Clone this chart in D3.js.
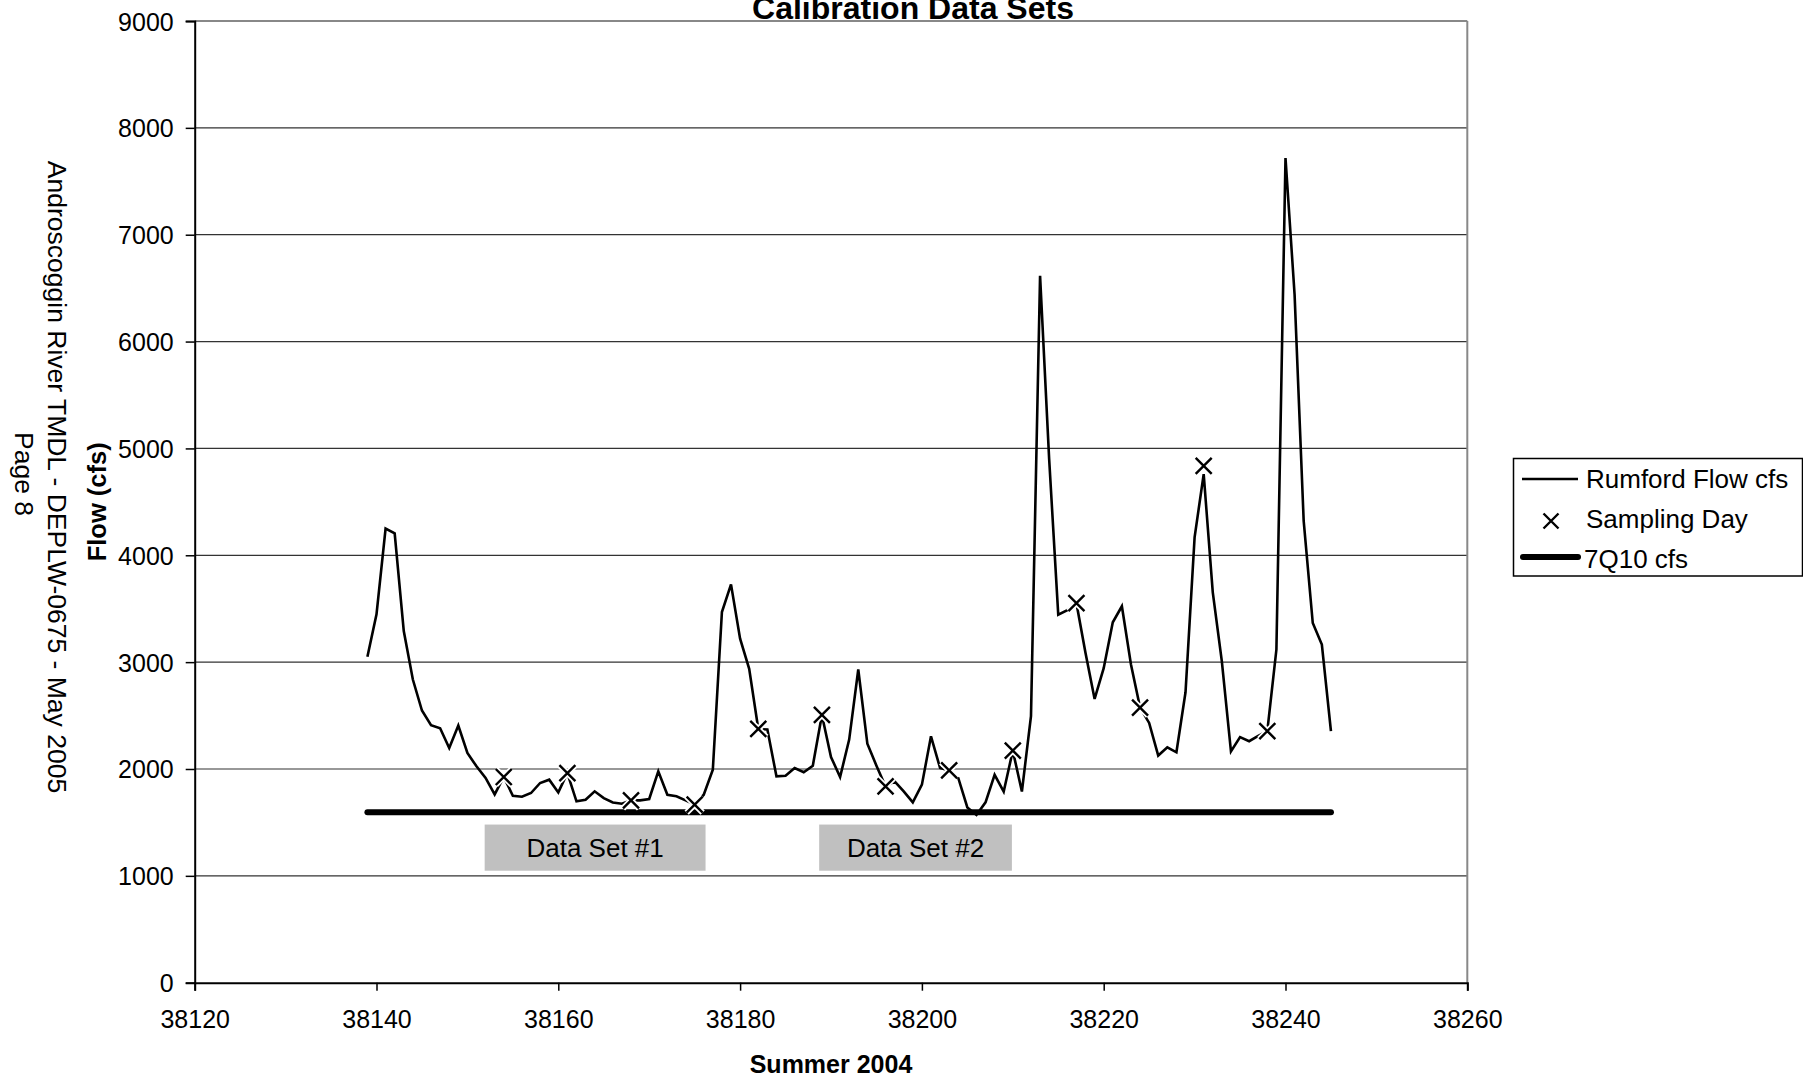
<!DOCTYPE html>
<html>
<head>
<meta charset="utf-8">
<script src="https://cdn.jsdelivr.net/npm/d3@7"></script>
<style>
  body { margin: 0; background: #fff; }
  svg { display: block; font-family: Arial, "Liberation Sans", sans-serif; }
</style>
</head>
<body>
<svg id="chart" width="1803" height="1080"></svg>
<script>
// daily Rumford flow, starting at day 38139
const startDay = 38139;
const flow = [
  3050, 3447, 4250, 4206, 3291, 2837, 2547, 2409, 2381, 2197,
  2406, 2150, 2025, 1916, 1762, 1925, 1750, 1740, 1775, 1869,
  1900, 1781, 1962, 1697, 1712, 1791, 1728, 1687, 1675, 1706,
  1706, 1719, 1978, 1759, 1744, 1706, 1666, 1759, 1994, 3469,
  3728, 3219, 2937, 2375, 2369, 1931, 1937, 2009, 1969, 2031,
  2506, 2112, 1925, 2275, 2931, 2237, 2031, 1837, 1884, 1791,
  1687, 1853, 2306, 2009, 1987, 1916, 1640, 1570, 1688, 1946,
  1789, 2172, 1789, 2495, 6616, 4900, 3444, 3487, 3552, 3086,
  2656, 2943, 3373, 3523, 2978, 2575, 2431, 2126, 2202, 2156,
  2718, 4168, 4760, 3653, 3004, 2164, 2298, 2260, 2309, 2355,
  3118, 7718, 6439, 4321, 3366, 3164, 2355
];
const sampleDays = [38154, 38161, 38168, 38175, 38182, 38189, 38196, 38203, 38210, 38217, 38224, 38231, 38238];
const sampleFlow = [1925, 1962, 1706, 1666, 2375, 2506, 1837, 1987, 2172, 3552, 2575, 4836, 2355];
const q710 = 1595;
const q710Days = [38139, 38245];
const dataSets = [
  { label: 'Data Set #1', from: 38151.9, to: 38176.2 },
  { label: 'Data Set #2', from: 38188.7, to: 38209.9 }
];
const xTicks = d3.range(38120, 38261, 20);
const yTicks = d3.range(0, 9001, 1000);

const svg = d3.select('#chart');
const plotLeft = 194.7, plotRight = 1467.3, plotTop = 21, plotBottom = 982.7;

const x = d3.scaleLinear().domain([38120, 38260]).range([plotLeft, plotRight]);
const y = d3.scaleLinear().domain([0, 9000]).range([plotBottom, plotTop]);

const flowData = flow.map((v, i) => ({ day: startDay + i, v }));

// gridlines
svg.append('g')
  .selectAll('line')
  .data(yTicks.filter(t => t > 0))
  .join('line')
  .attr('x1', plotLeft).attr('x2', plotRight)
  .attr('y1', d => y(d)).attr('y2', d => y(d))
  .attr('stroke', d => d === 9000 ? '#888' : '#333')
  .attr('stroke-width', d => d === 9000 ? 2 : 1.2);

// plot frame, right side
svg.append('line')
  .attr('x1', plotRight).attr('x2', plotRight).attr('y1', plotTop).attr('y2', plotBottom)
  .attr('stroke', '#888').attr('stroke-width', 2);

// axes
const yAxis = svg.append('g')
  .attr('transform', `translate(${plotLeft},0)`)
  .call(d3.axisLeft(y).tickValues(yTicks).tickSize(9).tickPadding(12).tickFormat(d3.format('d')));
const xAxis = svg.append('g')
  .attr('transform', `translate(0,${plotBottom})`)
  .call(d3.axisBottom(x).tickValues(xTicks).tickSize(8).tickPadding(20).tickFormat(d3.format('d')));
[yAxis, xAxis].forEach(a => {
  a.select('.domain').attr('stroke', '#000').attr('stroke-width', 2);
  a.selectAll('.tick line').attr('stroke', '#000').attr('stroke-width', 1.5);
  a.selectAll('.tick text').attr('fill', '#000').style('font-size', '25px')
    .style('font-family', 'Arial, "Liberation Sans", sans-serif');
});
yAxis.selectAll('.tick text').attr('dy', '0.36em');

// data set boxes
const boxTop = y(1480), boxBottom = y(1048);
const boxes = svg.append('g').selectAll('g').data(dataSets).join('g');
boxes.append('rect')
  .attr('x', d => x(d.from)).attr('width', d => x(d.to) - x(d.from))
  .attr('y', boxTop).attr('height', boxBottom - boxTop)
  .attr('fill', '#c0c0c0');
boxes.append('text')
  .attr('x', d => (x(d.from) + x(d.to)) / 2)
  .attr('y', boxTop + 32)
  .attr('text-anchor', 'middle')
  .style('font-size', '26px')
  .text(d => d.label);

// flow line
const line = d3.line().x(d => x(d.day)).y(d => y(d.v));
svg.append('path')
  .datum(flowData)
  .attr('d', line)
  .attr('fill', 'none')
  .attr('stroke', '#000')
  .attr('stroke-width', 2.6)
  .attr('stroke-linejoin', 'miter');

// 7Q10
svg.append('line')
  .attr('x1', x(q710Days[0])).attr('x2', x(q710Days[1]))
  .attr('y1', y(q710)).attr('y2', y(q710))
  .attr('stroke', '#000').attr('stroke-width', 6).attr('stroke-linecap', 'round');

// sampling day markers
const xPath = s => `M${-s},${-s}L${s},${s}M${-s},${s}L${s},${-s}`;
const marks = svg.append('g').selectAll('g')
  .data(sampleDays.map((d, i) => ({ day: d, v: sampleFlow[i] })))
  .join('g')
  .attr('transform', d => `translate(${x(d.day)},${y(d.v)})`);
marks.append('path').attr('d', xPath(8)).attr('stroke', '#fff').attr('stroke-width', 6);
marks.append('path').attr('d', xPath(8)).attr('stroke', '#000').attr('stroke-width', 2.4);

// titles
svg.append('text')
  .attr('x', 913).attr('y', 19)
  .attr('text-anchor', 'middle')
  .style('font-size', '32px').style('font-weight', 'bold')
  .text('Calibration Data Sets');
svg.append('text')
  .attr('x', (plotLeft + plotRight) / 2).attr('y', 1073)
  .attr('text-anchor', 'middle')
  .style('font-size', '25px').style('font-weight', 'bold')
  .text('Summer 2004');
svg.append('text')
  .attr('transform', `translate(106,${(plotTop + plotBottom) / 2}) rotate(-90)`)
  .attr('text-anchor', 'middle')
  .style('font-size', '25.5px').style('font-weight', 'bold')
  .text('Flow (cfs)');

// side note
svg.append('text')
  .attr('transform', 'translate(48,477) rotate(90)')
  .attr('text-anchor', 'middle')
  .style('font-size', '26.5px')
  .text('Androscoggin River TMDL - DEPLW-0675 - May 2005');
svg.append('text')
  .attr('transform', 'translate(15,474) rotate(90)')
  .attr('text-anchor', 'middle')
  .style('font-size', '26.5px')
  .text('Page 8');

// legend
const lg = svg.append('g');
lg.append('rect')
  .attr('x', 1513.5).attr('y', 458.5).attr('width', 289).attr('height', 117.5)
  .attr('fill', '#fff').attr('stroke', '#000').attr('stroke-width', 1.5);
lg.append('line').attr('x1', 1522).attr('x2', 1578).attr('y1', 479).attr('y2', 479)
  .attr('stroke', '#000').attr('stroke-width', 2.6);
lg.append('path').attr('d', xPath(7.5)).attr('transform', 'translate(1551,521)')
  .attr('stroke', '#000').attr('stroke-width', 2.4);
lg.append('line').attr('x1', 1523).attr('x2', 1578).attr('y1', 557).attr('y2', 557)
  .attr('stroke', '#000').attr('stroke-width', 6).attr('stroke-linecap', 'round');
const legendLabels = ['Rumford Flow cfs', 'Sampling Day', '7Q10 cfs'];
lg.selectAll('text.lbl').data(legendLabels).join('text')
  .attr('class', 'lbl')
  .attr('x', (d, i) => i === 2 ? 1584 : 1586)
  .attr('y', (d, i) => 488 + i * 40)
  .style('font-size', '26px')
  .text(d => d);
</script>
</body>
</html>
